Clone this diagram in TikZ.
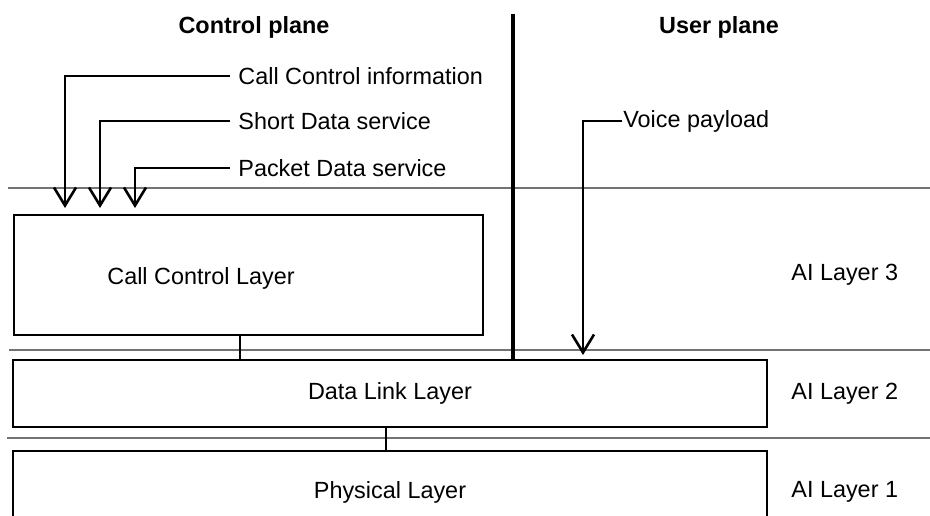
\documentclass[tikz,border=0pt]{standalone}
\usepackage{fontspec}
\setmainfont{Liberation Sans}
\usetikzlibrary{arrows.meta,positioning}

\begin{document}
\begin{tikzpicture}[x=0.5pt, y=-0.5pt,
		every node/.style={font=\fontsize{11.7}{14}\selectfont},
		layer/.style={draw, line width=1.35pt, inner sep=0pt},
		service/.style={anchor=west, inner xsep=4pt, inner ysep=0pt},
		flow/.style={line width=1.3pt, -{Straight Barb[length=9pt,width=11pt]}},
		sep/.style={draw=black!55, line width=0.6pt},
		link/.style={line width=1.3pt}]
			\useasboundingbox (0,0) rectangle (930,515) ;
			\clip (0,0) rectangle (930,515) ;
			% planes
			\node[font=\fontsize{11.7}{14}\selectfont\bfseries] (Control) at (254,27) {Control plane} ;
			\node[font=\fontsize{11.7}{14}\selectfont\bfseries] (User) at (719,27) {User plane} ;
			% layer boundaries
			\draw[sep] (8,188) -- (930,188) ;
			\draw[sep] (9,350) -- (930,350) ;
			\draw[sep] (7,438) -- (930,438) ;
			% layers
			\node[layer, minimum width=234.5pt, minimum height=60pt] (CallCtrl) at (248.5,275) {} ;
			\node (CallCtrlText) at (201,278) {Call Control Layer} ;
			\node[layer, minimum width=377pt, minimum height=33.5pt] (DataLink) at (390,393.5) {Data Link Layer} ;
			\node[layer, minimum width=377pt, minimum height=41pt] (Physical) at (390,492) {Physical Layer} ;
			\node[right=8pt of DataLink] (AI2) {AI Layer 2} ;
			\node[right=8pt of Physical] (AI1) {AI Layer 1} ;
			\node[anchor=west] (AI3) at (AI2.west |- CallCtrl.east) {AI Layer 3} ;
			% services
			\node[service] (CCInfo) at (230,76) {Call Control information} ;
			\node[service] (SDS) at (230,121) {Short Data service} ;
			\node[service] (PDS) at (230,168) {Packet Data service} ;
			\node[service, inner xsep=0.5pt] (Voice) at (622,121) {Voice payload} ;
			\coordinate (CCInfoEnd) at (65,208) ;
			\coordinate (SDSEnd) at (100,208) ;
			\coordinate (PDSEnd) at (135,208) ;
			\coordinate (VoiceEnd) at (583,355) ;
			\draw[flow] (CCInfo.west) -| (CCInfoEnd) ;
			\draw[flow] (SDS.west) -| (SDSEnd) ;
			\draw[flow] (PDS.west) -| (PDSEnd) ;
			\draw[flow] (Voice.west) -| (VoiceEnd) ;
			% plane divider and layer links
			\coordinate (DivTop) at (513,14) ;
			\draw[line width=2.2pt] (DivTop) -- (DivTop |- DataLink.north) ;
			\draw[link] ([xshift=-4.25pt]CallCtrl.south) -- ([xshift=-4.25pt]CallCtrl.south |- DataLink.north) ;
			\draw[link] ([xshift=-2pt]DataLink.south) -- ([xshift=-2pt]DataLink.south |- Physical.north) ;
		\end{tikzpicture}
\end{document}
